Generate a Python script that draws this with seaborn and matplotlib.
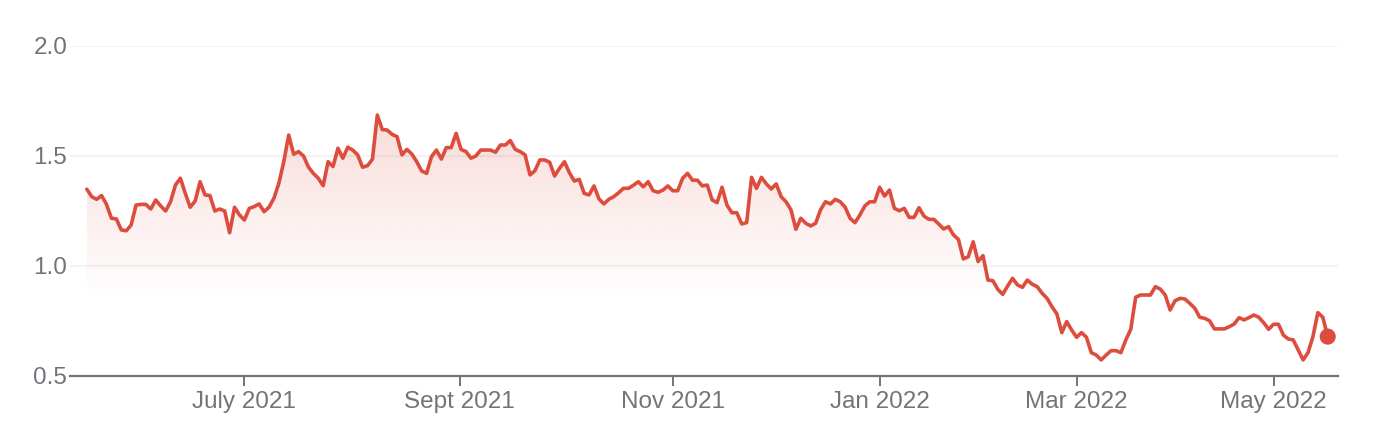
import numpy as np
import pandas as pd
import matplotlib
matplotlib.use('Agg')
import matplotlib.pyplot as plt
from matplotlib.patches import PathPatch
import seaborn as sns

# daily closing values
price = [
    1.349, 1.315, 1.303, 1.32, 1.28, 1.217, 1.214, 1.164, 1.16, 1.186,
    1.277, 1.28, 1.28, 1.259, 1.30, 1.273, 1.25, 1.292, 1.368, 1.399,
    1.33, 1.267, 1.295, 1.383, 1.323, 1.32, 1.25, 1.259, 1.25, 1.151,
    1.267, 1.232, 1.209, 1.262, 1.27, 1.282, 1.247, 1.267, 1.308, 1.376,
    1.474, 1.595, 1.508,
    1.52, 1.50, 1.45, 1.421, 1.399, 1.365, 1.474, 1.452, 1.535, 1.49,
    1.54, 1.527, 1.505, 1.449, 1.456, 1.485, 1.686, 1.62, 1.618, 1.598,
    1.588, 1.505, 1.53, 1.509, 1.474, 1.432, 1.421, 1.497, 1.527, 1.486,
    1.538, 1.538, 1.603, 1.53, 1.52, 1.49, 1.50, 1.527, 1.527, 1.527,
    1.517, 1.55, 1.55,
    1.57, 1.53, 1.52, 1.505, 1.414, 1.433, 1.482, 1.482, 1.471, 1.409,
    1.444, 1.474, 1.424, 1.386, 1.394, 1.33, 1.323, 1.364, 1.305, 1.282,
    1.303, 1.315, 1.333, 1.353, 1.353, 1.367, 1.383, 1.36, 1.383, 1.342,
    1.335, 1.345, 1.364, 1.342, 1.342, 1.399, 1.421, 1.39, 1.39, 1.364,
    1.368, 1.30,
    1.288, 1.358, 1.277, 1.242, 1.242, 1.191, 1.197, 1.403, 1.353, 1.403,
    1.373, 1.35, 1.373, 1.315, 1.292, 1.255, 1.167, 1.217, 1.194, 1.182,
    1.194, 1.255, 1.292, 1.282, 1.303, 1.292, 1.267, 1.217, 1.197, 1.232,
    1.273, 1.292, 1.292, 1.358, 1.318, 1.345, 1.262, 1.251, 1.262, 1.221,
    1.221, 1.265,
    1.227, 1.212, 1.212, 1.191, 1.168, 1.179, 1.141, 1.121, 1.032, 1.042,
    1.11, 1.02, 1.047, 0.936, 0.933, 0.894, 0.871, 0.909, 0.944, 0.914,
    0.903, 0.936, 0.917, 0.906, 0.876, 0.853, 0.815, 0.782, 0.697, 0.747,
    0.709, 0.676, 0.697, 0.676, 0.606, 0.595, 0.573, 0.595, 0.615, 0.615,
    0.606, 0.664, 0.712,
    0.858, 0.868, 0.868, 0.868, 0.906, 0.895, 0.868, 0.80, 0.842, 0.853,
    0.85, 0.83, 0.808, 0.767, 0.762, 0.751, 0.714, 0.714, 0.714, 0.724,
    0.736, 0.765, 0.755, 0.765, 0.777, 0.767, 0.742, 0.712, 0.735, 0.735,
    0.686, 0.668, 0.664, 0.618, 0.573, 0.606, 0.679, 0.788, 0.767, 0.679,
]

# trading-day index where each month label sits
month_pos = [32, 75.7, 119, 161, 201, 241]
month_labels = ['July 2021', 'Sept 2021', 'Nov 2021', 'Jan 2022', 'Mar 2022', 'May 2022']
y_ticks = [0.5, 1.0, 1.5, 2.0]

RED = '#dc4d3e'
GREY = '#70757a'

df = pd.DataFrame({'day': np.arange(len(price)), 'price': price})

sns.set_theme(style='white')
plt.rcParams['font.family'] = ['Liberation Sans', 'DejaVu Sans']

fig = plt.figure(figsize=(13.82, 4.4), dpi=100)
ax = fig.add_axes([0.0507, 0.1455, 0.9175, 0.75])

# gridlines
for y in y_ticks[1:]:
    ax.axhline(y, color='#f3f3f3', linewidth=1.5, zorder=0)

# gradient fill under the line, clipped to the area below the series
area = ax.fill_between(df['day'], df['price'], 0.5, color='none', linewidth=0)
clip = PathPatch(area.get_paths()[0], facecolor='none', edgecolor='none')
ax.add_patch(clip)
top = df['price'].max()
ys = np.linspace(0.5, top, 256)
alpha = np.clip((ys - 0.85) / (top - 0.85), 0, 1) * 0.2
grad = np.zeros((256, 1, 4))
grad[:, 0, :3] = matplotlib.colors.to_rgb(RED)
grad[:, 0, 3] = alpha
im = ax.imshow(grad, extent=[df['day'].iloc[0], df['day'].iloc[-1], 0.5, top],
               origin='lower', aspect='auto', zorder=1)
im.set_clip_path(clip)

sns.lineplot(data=df, x='day', y='price', color=RED, linewidth=2.6, ax=ax, zorder=3)
last = df.iloc[[-1]]
sns.scatterplot(data=last, x='day', y='price', color=RED, s=135, edgecolor='none', ax=ax, zorder=4)

ax.set_xlim(-3.4, 254.1)
ax.set_ylim(0.5, 2.0)
ax.set_xticks(month_pos)
ax.set_xticklabels(month_labels)
ax.set_yticks(y_ticks)
ax.set_yticklabels([f'{v:.1f}' for v in y_ticks])
ax.set_xlabel('')
ax.set_ylabel('')

for side in ['top', 'right', 'left']:
    ax.spines[side].set_visible(False)
ax.spines['bottom'].set_color(GREY)
ax.spines['bottom'].set_linewidth(1.6)

ax.tick_params(axis='x', colors=GREY, labelsize=17.5, length=7, width=1.4,
               direction='out', pad=4, bottom=True)
ax.tick_params(axis='y', colors=GREY, labelsize=17.5, length=0, pad=2)

fig.savefig('out.png', dpi=100)
